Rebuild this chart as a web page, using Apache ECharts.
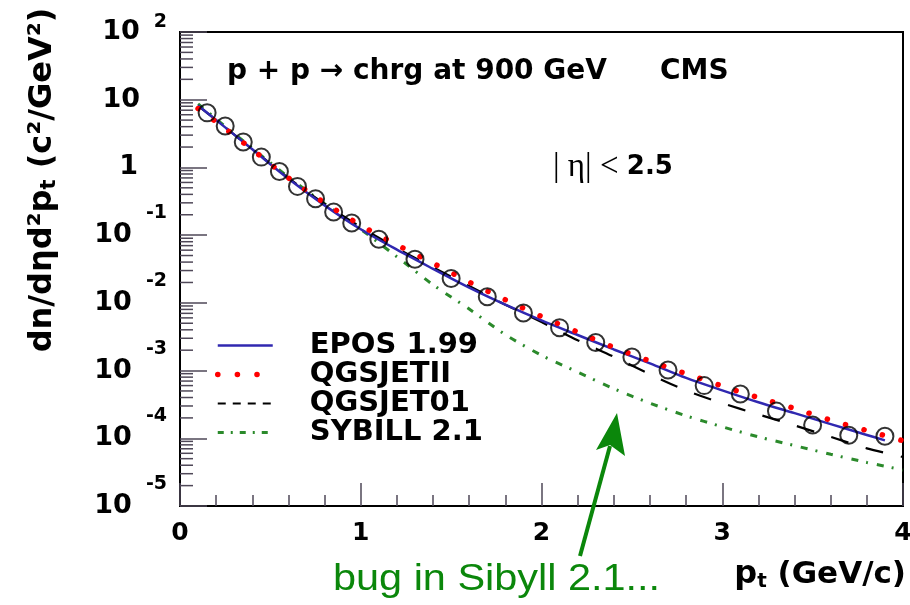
<!DOCTYPE html>
<html><head><meta charset="utf-8">
<script src="https://cdn.jsdelivr.net/npm/echarts@6/dist/echarts.min.js"></script>
<style>html,body{margin:0;padding:0;background:#fff}#c{width:910px;height:605px}</style>
</head><body><div id="c"></div>
<script>
// CMS data points (pt in GeV/c, dn/deta d2pt)
const dataPt  = [0.15,0.25,0.35,0.45,0.55,0.65,0.75,0.85,0.95,1.1,1.3,1.5,1.7,1.9,2.1,2.3,2.5,2.7,2.9,3.1,3.3,3.5,3.7,3.9];
const dataVal = [6.4,4.1,2.37,1.42,0.87,0.525,0.345,0.22,0.151,0.087,0.044,0.0229,0.0123,0.0071,0.0043,0.0026,0.00159,0.00102,0.0006,0.00045,0.000252,0.000157,0.000111,0.000107];

// EPOS 1.99
const eposPt  = [0.1,0.2,0.3,0.4,0.6,0.8,1.0,1.2,1.4,1.6,1.8,2.0,2.2,2.4,2.6,2.8,3.0,3.2,3.4,3.6,3.8,3.9];
const eposVal = [8.2,5.0,3.05,1.85,0.68,0.275,0.122,0.061,0.0318,0.0168,0.0094,0.0055,0.00335,0.00205,0.00128,0.00078,0.00051,0.00034,0.000235,0.000162,0.000112,0.000093];

// other models share one pt grid
const modelPt     = [0.1,0.2,0.3,0.4,0.6,0.8,1.0,1.2,1.4,1.6,1.8,2.0,2.2,2.4,2.6,2.8,3.0,3.2,3.4,3.6,3.8,4.0];
const qgsjet2Val  = [7.4,4.7,2.95,1.83,0.70,0.30,0.140,0.072,0.0385,0.0203,0.0111,0.0063,0.0037,0.0022,0.00138,0.00090,0.00059,0.00040,0.000275,0.000185,0.000130,0.000092];
const qgsjet01Val = [8.2,5.0,3.05,1.87,0.70,0.29,0.132,0.064,0.0335,0.0177,0.0094,0.0052,0.0028,0.00160,0.00088,0.00051,0.00033,0.000225,0.000155,0.000105,0.000071,0.000053];
const sybillVal   = [8.7,5.2,3.15,1.92,0.72,0.29,0.122,0.048,0.0185,0.0081,0.0034,0.00168,0.00095,0.00054,0.00033,0.000215,0.000148,0.000105,0.000078,0.000058,0.000044,0.000034];

const seriesNames = ['EPOS 1.99','QGSJETII','QGSJET01','SYBILL 2.1'];
const yDecades = [-5,-4,-3,-2,-1,0,1];   // decades holding minor ticks
const minorMults = [2,3,4,5,6,7,8,9];

const zip = (xs, ys) => xs.map((x, i) => [x, ys[i]]);
const minorTicks = [];
yDecades.forEach(d => minorMults.forEach(m => minorTicks.push([0, m * Math.pow(10, d)])));

const TICK = '#4f4858';
const BLUE = '#3028b0', RED = '#ff0000', GREEN = '#2b8a2b', NOTE = '#0b870b';
const lab = {fontFamily:'DejaVu Sans', fontWeight:'bold', color:'#000'};

const chart = echarts.init(document.getElementById('c'), null, {renderer:'canvas'});
chart.setOption({
  animation: false,
  backgroundColor: '#fff',
  grid: {left:180, right:7, top:32, bottom:99, show:true, borderColor:'#000', borderWidth:2, outerBoundsMode:'none'},
  xAxis: {
    type:'value', min:0, max:4, interval:1,
    axisLine:{show:true, onZero:false, lineStyle:{color:'#000', width:2}},
    axisTick:{show:true, inside:true, length:23, lineStyle:{color:TICK, width:1.5}},
    minorTick:{show:true, splitNumber:5, length:11, lineStyle:{color:TICK, width:1.5}},
    splitLine:{show:false},
    axisLabel:{margin:15, fontSize:25, ...lab},
    name:'{p|p}{t|t}{n| (GeV/c)}', nameLocation:'end', nameGap:3,
    nameTextStyle:{align:'right', verticalAlign:'top', padding:[52,0,0,0],
      rich:{p:{fontSize:32, ...lab}, t:{fontSize:20, ...lab, padding:[14,0,0,0]}, n:{fontSize:31, ...lab}}}
  },
  yAxis: {
    type:'log', logBase:10, min:1e-5, max:100, splitNumber:7,
    axisLine:{show:true, lineStyle:{color:'#000', width:2}},
    axisTick:{show:true, inside:true, length:27, lineStyle:{color:TICK, width:1.5}},
    splitLine:{show:false},
    axisLabel:{
      margin:13, showMinLabel:true, showMaxLabel:true,
      formatter: v => {
        const e = Math.round(Math.log10(v));
        if (e === 0) return '{one|1}';
        if (e === 1) return '{ten|10}';
        if (e === 2) return '{base|10}{sup2|2}';
        return '{base|10}{sup|' + e + '}';
      },
      rich:{
        one:{fontSize:27, ...lab, padding:[0,29,0,0]},
        ten:{fontSize:27, ...lab, padding:[0,27,0,0]},
        base:{fontSize:27, ...lab},
        sup2:{fontSize:19, ...lab, padding:[0,0,20,14]},
        sup:{fontSize:19, ...lab, padding:[0,0,44,14]}
      }
    },
    name:'{n|dn/dηd²p}{t|t}{n| (c²/GeV²)}', nameLocation:'middle', nameGap:120, nameRotate:90,
    nameTextStyle:{padding:[0,0,0,178],
      rich:{n:{fontSize:32, ...lab}, t:{fontSize:21, ...lab, padding:[14,0,0,0]}}}
  },
  legend: {
    orient:'vertical', left:215, top:331, padding:0, itemGap:0, itemWidth:55, itemHeight:14,
    selectedMode:false,
    itemStyle:{opacity:0},
    textStyle:{fontFamily:'DejaVu Sans', fontWeight:'bold', fontSize:29, color:'#000', lineHeight:28, padding:[0,0,0,32]},
    data:[
      {name:seriesNames[0], lineStyle:{width:2.5}},
      {name:seriesNames[1], lineStyle:{width:5.5, type:[0.1,19.5], cap:'round'}},
      {name:seriesNames[2], lineStyle:{type:[8,7], width:2}},
      {name:seriesNames[3], lineStyle:{type:[6,7,2,7], width:3}}
    ]
  },
  series: [
    {type:'custom', silent:true, coordinateSystem:'cartesian2d', data:minorTicks, z:1,
     renderItem:(params, api) => {
       const p = api.coord([api.value(0), api.value(1)]);
       return {type:'line', shape:{x1:p[0], y1:p[1], x2:p[0]+13, y2:p[1]}, style:{stroke:TICK, lineWidth:1.5}};
     }},
    {name:seriesNames[3], type:'line', data:zip(modelPt, sybillVal), smooth:0.3, symbol:'none', z:2,
     lineStyle:{color:GREEN, width:3, type:[7,8,2,9]}, itemStyle:{color:GREEN}},
    {name:seriesNames[2], type:'line', data:zip(modelPt, qgsjet01Val), smooth:0.3, symbol:'none', z:2,
     lineStyle:{color:'#000', width:2.2, type:[18,18]}, itemStyle:{color:'#000'}},
    {name:seriesNames[0], type:'line', data:zip(eposPt, eposVal), smooth:0.3, symbol:'none', z:3,
     lineStyle:{color:BLUE, width:2.5, type:'solid'}, itemStyle:{color:BLUE}},
    {name:seriesNames[1], type:'line', data:zip(modelPt, qgsjet2Val), smooth:0.3, symbol:'none', z:4,
     lineStyle:{color:RED, width:5.5, type:[0.1,19], cap:'round'}, itemStyle:{color:RED}},
    {name:'CMS', type:'scatter', data:zip(dataPt, dataVal), symbol:'circle', symbolSize:17, z:5,
     itemStyle:{color:'rgba(0,0,0,0)', borderColor:'#000', borderWidth:2}}
  ],
  graphic: [
    {type:'text', x:227, y:72, z:10, style:{text:'p + p → chrg at 900 GeV', font:'bold 28px "DejaVu Sans"', fill:'#000', verticalAlign:'middle', align:'left'}},
    {type:'text', x:660, y:72, z:10, style:{text:'CMS', font:'bold 28px "DejaVu Sans"', fill:'#000', verticalAlign:'middle', align:'left'}},
    {type:'text', x:553, y:167, z:10, style:{text:'{a|| η| < }{b|2.5}', verticalAlign:'middle', align:'left',
      rich:{a:{fontFamily:'Liberation Serif', fontSize:33, fill:'#000'}, b:{fontFamily:'DejaVu Sans', fontWeight:'bold', fontSize:26, fill:'#000'}}}},
    {type:'text', x:333, y:580, scaleX:1.12, z:10, style:{text:'bug in Sibyll 2.1...', font:'37px "Liberation Sans"', fill:NOTE, verticalAlign:'middle', align:'left'}},
    {type:'line', z:10, shape:{x1:580, y1:556, x2:610, y2:446}, style:{stroke:NOTE, lineWidth:4}},
    {type:'polygon', z:10, shape:{points:[[617,413],[596,450],[610,445],[625,456]]}, style:{fill:NOTE}}
  ]
});
</script>
</body></html>
